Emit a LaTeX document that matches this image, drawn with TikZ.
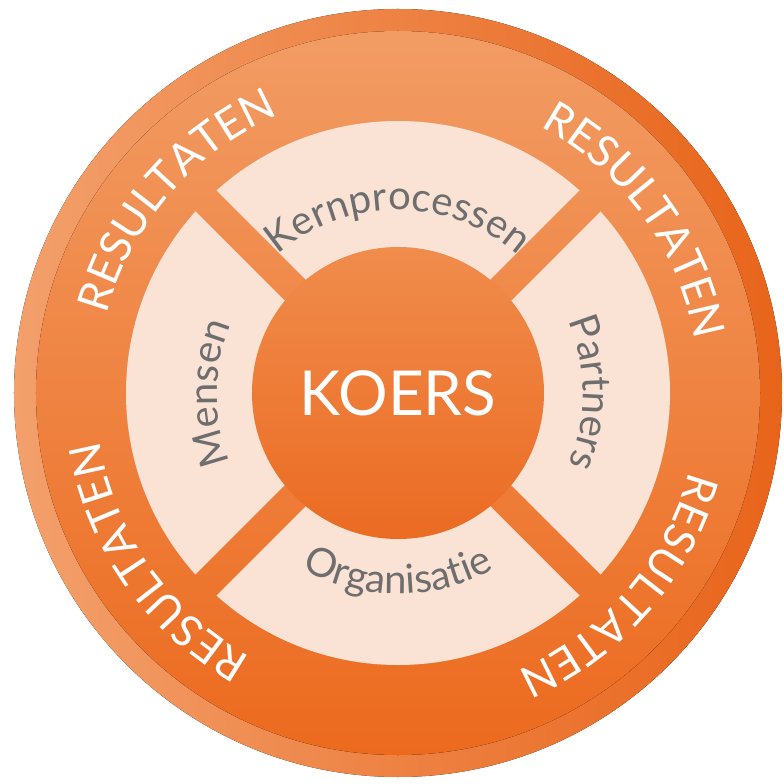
\documentclass[tikz,border=0pt]{standalone}
\usepackage{fontspec}
\setmainfont{Lato}
\usetikzlibrary{decorations.text}

\definecolor{rimlight}{HTML}{F3A06C}
\definecolor{rimdark}{HTML}{E8641A}
\definecolor{ringtop}{HTML}{F29C64}
\definecolor{ringbottom}{HTML}{EC6A1E}
\definecolor{peach}{HTML}{FAE2D5}
\definecolor{koerstop}{HTML}{F08C4C}
\definecolor{koersbottom}{HTML}{EB6B22}
\definecolor{labelgray}{HTML}{6E6E6E}

\tikzset{
	arclabel/.style={decorate, decoration={text along path, text align=center, text color=labelgray, text={|\fontsize{40}{40}\selectfont|#1}}},
	ringlabel/.style={decorate, decoration={text along path, text align=center, text color=white, text={|\fontsize{44}{44}\selectfont|#1}}}
}

\begin{document}
\begin{tikzpicture}[x=1pt,y=1pt]
	\useasboundingbox (-398,-391) rectangle (386,393);
	\fill[left color=rimlight, right color=rimdark] (0,0) circle (384);
	\fill[top color=ringtop, bottom color=ringbottom] (0,0) circle (362);
	\begin{scope}
		\clip (0,0) circle (272);
		\foreach \a in {0,90,180,270}
			\fill[peach, rotate=\a] (0,21) -- (300,321) -- (-300,321) -- cycle;
	\end{scope}
	\node[circle, minimum size=292, inner sep=0, top color=koerstop, bottom color=koersbottom, text=white, font=\fontsize{62}{62}\selectfont] (koers) at (0,0) {KOERS};
	\path[arclabel=Kernprocessen] (160:183) arc[start angle=160, end angle=20, radius=183];
	\path[arclabel=Partners] (50:185) arc[start angle=50, end angle=-50, radius=185];
	\path[arclabel=Organisatie] (220:201) arc[start angle=220, end angle=320, radius=201];
	\path[arclabel=Mensen] (230:181) arc[start angle=230, end angle=130, radius=181];
	\foreach \c in {139,36,215,-41}
		\path[ringlabel=RESULTATEN] ({\c+50}:302) arc[start angle=\c+50, end angle=\c-50, radius=302];
\end{tikzpicture}
\end{document}
